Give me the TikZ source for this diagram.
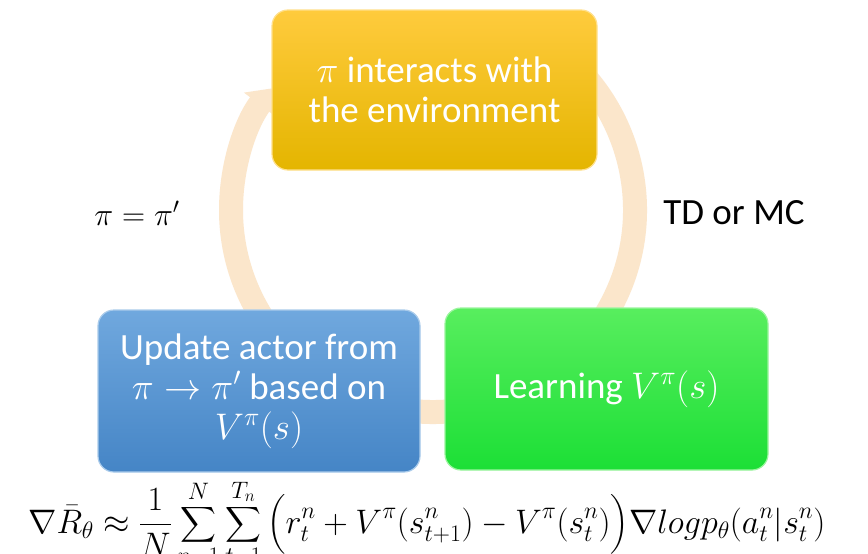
\RequirePackage{fix-cm}
\documentclass[tikz,border=0pt]{standalone}
\usepackage{amsmath}
\usepackage{fontspec}
\setmainfont{Carlito}
\usetikzlibrary{arrows.meta}
\definecolor{arcc}{HTML}{FBE6CB}
\definecolor{ytop}{HTML}{FFCB3D}
\definecolor{ybot}{HTML}{E4B500}
\definecolor{btop}{HTML}{70A8DE}
\definecolor{bbot}{HTML}{4585C6}
\definecolor{gtop}{HTML}{58EE5E}
\definecolor{gbot}{HTML}{1CDF36}
\tikzset{
  box/.style={rounded corners=16pt, text=white, align=center, inner sep=0pt,
     font=\fontsize{37}{40}\selectfont, line width=1.2pt},
  lbl/.style={text=black, inner sep=0pt},
  cyc/.style={line width=24pt, draw=arcc, -{Triangle[width=38pt,length=20pt]}}
}
\begin{document}
\begin{tikzpicture}[x=1pt,y=1pt]
\useasboundingbox (0,0) rectangle (868,-554);
\clip (0,0) rectangle (868,-554);
\fill[white] (0,0) rectangle (868,-554);
% cycle arc
\coordinate (c0) at (433,-210);
\draw[cyc] ([shift={(60:202)}]c0) arc[start angle=60, end angle=-217, radius=202];
% boxes
\node[box, minimum width=325pt, minimum height=160pt, top color=ytop, bottom color=ybot, draw=ytop!60!white]
  (env) at (434.5,-90) {$\pi$ interacts with\\the environment};
\node[box, minimum width=322pt, minimum height=162pt, top color=btop, bottom color=bbot, draw=btop!60!white]
  (upd) at (259,-391) {Update actor from\\$\pi\rightarrow\pi'$ based on\\$V^{\pi}(s)$};
\node[box, minimum width=323pt, minimum height=162pt, top color=gtop, bottom color=gbot, draw=gtop!60!white]
  (lrn) at (606.5,-389) {Learning $V^{\pi}(s)$};
% labels
\node[lbl, font=\fontsize{37}{44}\selectfont] (tdmc) at (734,-213) {TD or MC};
\node[lbl, font=\fontsize{32}{38}\selectfont] (pieq) at (137,-213) {$\pi=\pi'$};
% formula
\node[anchor=base west, inner sep=0pt, font=\fontsize{34}{40}\selectfont] (grad) at (28,-533)
 {$\displaystyle \nabla\bar{R}_\theta \approx \frac{1}{N}\sum_{n=1}^{N}\sum_{t=1}^{T_n}\Big(r_t^n+V^{\pi}(s_{t+1}^n)-V^{\pi}(s_t^n)\Big)\nabla log p_\theta(a_t^n|s_t^n)$};
\end{tikzpicture}
\end{document}
